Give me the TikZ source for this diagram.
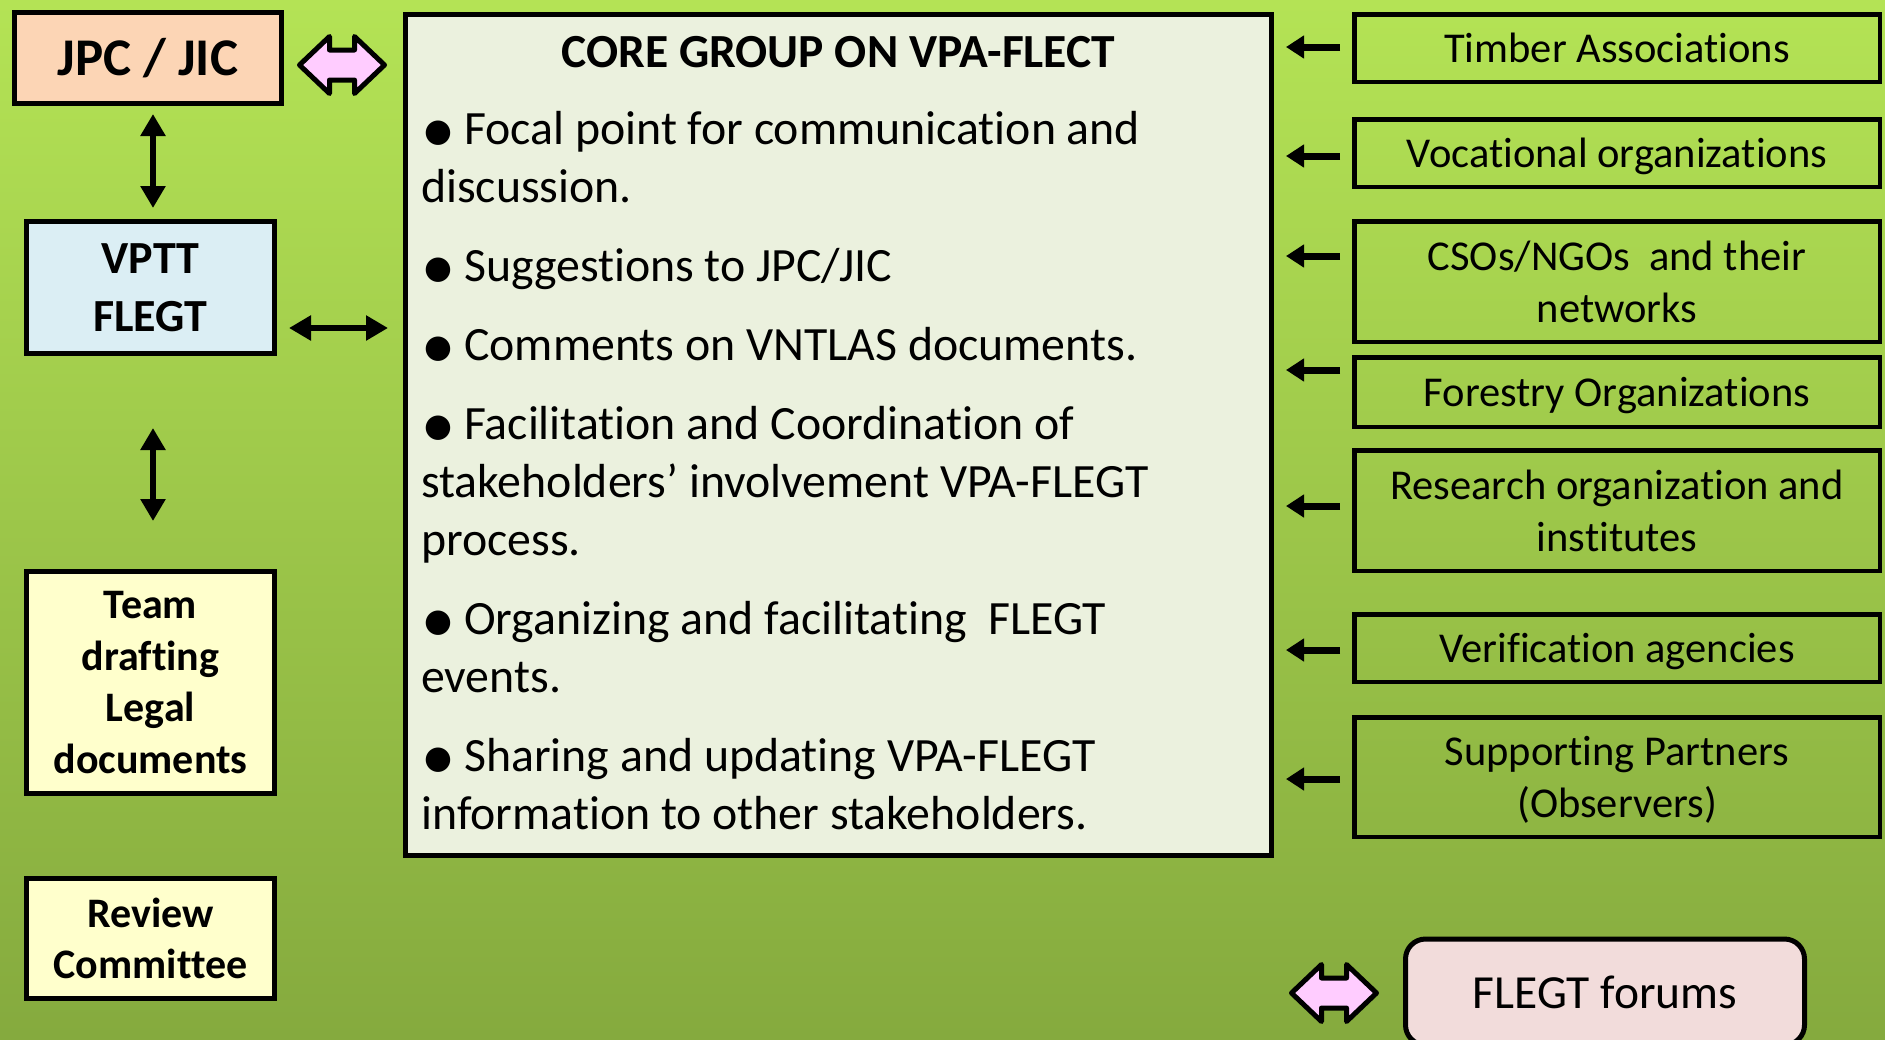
\documentclass[tikz,border=0pt]{standalone}
\usepackage{fontspec}
\setmainfont{Carlito}[Ligatures={TeX,NoCommon},RawFeature={-liga;-clig}]
\newfontfamily\dejavu{DejaVu Sans}
\usetikzlibrary{arrows.meta}
\definecolor{bgtop}{RGB}{180,227,85}
\definecolor{bgbot}{RGB}{133,170,62}
\definecolor{peach}{RGB}{252,213,181}
\definecolor{lblue}{RGB}{219,238,244}
\definecolor{lyellow}{RGB}{255,255,204}
\definecolor{corefill}{RGB}{235,241,222}
\definecolor{forumfill}{RGB}{242,220,219}
\definecolor{pinkarrow}{RGB}{255,204,255}
\newcommand\blt{\makebox[40pt][l]{\raisebox{3pt}{\dejavu\fontsize{32}{32}\selectfont ●}}}
\begin{document}
\begin{tikzpicture}[x=1pt,y=-1pt,
  lbox/.style={draw, line width=5pt, inner sep=0pt, align=center,
    font=\bfseries\fontsize{46}{57.7}\selectfont},
  rbox/.style={draw, line width=4.5pt, inner sep=0pt, align=center, text depth=0pt,
    minimum width=525.5pt, font=\fontsize{42.5}{52}\selectfont},
  txt/.style={anchor=base west, inner sep=0pt, font=\fontsize{47.8}{58}\selectfont},
  dblarrow/.style={line width=6.5pt, {Triangle[width=24pt,length=22pt]}-{Triangle[width=24pt,length=22pt]}},
  inarrow/.style={line width=7pt, -{Triangle[width=22pt,length=18pt]}, shorten <=12pt, shorten >=12pt},
  blockarrow/.pic={\draw[line width=5pt, line join=round, fill=pinkarrow]
    (-42.5,0) -- (-12.5,-28.5) -- (-12.5,-15) -- (12.5,-15) -- (12.5,-28.5) -- (42.5,0)
    -- (12.5,28.5) -- (12.5,15) -- (-12.5,15) -- (-12.5,28.5) -- cycle;}
]
\useasboundingbox (0,0) rectangle (1885,1039);
\shade[top color=bgtop, bottom color=bgbot] (0,0) rectangle (1885,1039);

% left column
\node[lbox, fill=peach, minimum width=267pt, minimum height=91pt, text depth=0pt,
  font=\bfseries\fontsize{53}{60}\selectfont] (jpc) at (148,58) {\raisebox{2pt}{JPC / JIC}};
\node[lbox, fill=lblue, minimum width=248pt, minimum height=132pt] (vptt) at (150.5,287.5) {VPTT\\FLEGT};
\node[lbox, fill=lyellow, minimum width=248pt, minimum height=222pt,
  font=\bfseries\fontsize{42}{51.5}\selectfont] (team) at (150.5,682.5) {Team\\drafting\\Legal\\documents};
\node[lbox, fill=lyellow, minimum width=248pt, minimum height=120pt,
  font=\bfseries\fontsize{42}{51.5}\selectfont] (review) at (150.5,938.5) {Review\\Committee};

% core box
\node[draw, line width=5pt, fill=corefill, minimum width=866pt, minimum height=841pt, inner sep=0pt] (core) at (838.5,435) {};
\node[anchor=base, inner sep=0pt, font=\bfseries\fontsize{47.5}{58}\selectfont] (title) at (838.5,67) {CORE GROUP ON VPA-FLECT};
\node[txt] (l1) at (424,144) {\blt Focal point for communication and};
\node[txt] (l2) at (421,202) {discussion.};
\node[txt] (l3) at (424,281) {\blt Suggestions to JPC/JIC};
\node[txt] (l4) at (424,360) {\blt Comments on VNTLAS documents.};
\node[txt] (l5) at (424,439) {\blt Facilitation and Coordination of};
\node[txt] (l6) at (421,497) {stakeholders’ involvement VPA-FLEGT};
\node[txt] (l7) at (421,555) {process.};
\node[txt] (l8) at (424,634) {\blt Organizing and facilitating\ \ FLEGT};
\node[txt] (l9) at (421,692) {events.};
\node[txt] (l10) at (424,771) {\blt Sharing and updating VPA-FLEGT};
\node[txt] (l11) at (421,829) {information to other stakeholders.};

% right column
\node[rbox, minimum height=67.5pt] (timber) at (1617,48) {Timber Associations};
\node[rbox, minimum height=67.5pt] (voc) at (1617,153) {Vocational organizations};
\node[rbox, minimum height=120.5pt] (cso) at (1617,281.5) {CSOs/NGOs\ \ and their\\networks};
\node[rbox, minimum height=69.5pt] (forestry) at (1617,392) {Forestry Organizations};
\node[rbox, minimum height=120.5pt] (research) at (1617,510.5) {Research organization and\\institutes};
\node[rbox, minimum height=67.5pt] (verif) at (1617,648) {Verification agencies};
\node[rbox, minimum height=119.5pt] (support) at (1617,777) {Supporting Partners\\(Observers)};

\node[draw, line width=5pt, rounded corners=20pt, fill=forumfill, minimum width=399pt,
  minimum height=106pt, inner sep=0pt, font=\fontsize{47.5}{58}\selectfont] (forums) at (1605,992) {FLEGT forums};

% helper coordinates
\coordinate (lx) at (153,0);
\coordinate (hy) at (0,328);
\coordinate (y1) at (0,47);
\coordinate (y2) at (0,156);
\coordinate (y3) at (0,256);
\coordinate (y4) at (0,370);
\coordinate (y5) at (0,506);
\coordinate (y6) at (0,650);
\coordinate (y7) at (0,779);

% connectors
\draw[dblarrow, shorten <=8pt, shorten >=11pt] (jpc.south -| lx) -- (vptt.north -| lx);
\draw[dblarrow, shorten <=72pt, shorten >=48pt] (vptt.south -| lx) -- (team.north -| lx);
\draw[dblarrow, shorten <=12pt, shorten >=15pt] (vptt.east |- hy) -- (core.west |- hy);

\draw[inarrow] (timber.west |- y1) -- (core.east |- y1);
\draw[inarrow] (voc.west |- y2) -- (core.east |- y2);
\draw[inarrow] (cso.west |- y3) -- (core.east |- y3);
\draw[inarrow] (forestry.west |- y4) -- (core.east |- y4);
\draw[inarrow] (research.west |- y5) -- (core.east |- y5);
\draw[inarrow] (verif.west |- y6) -- (core.east |- y6);
\draw[inarrow] (support.west |- y7) -- (core.east |- y7);

\pic at (342,65) {blockarrow};
\pic at (1334,993) {blockarrow};
\end{tikzpicture}
\end{document}
